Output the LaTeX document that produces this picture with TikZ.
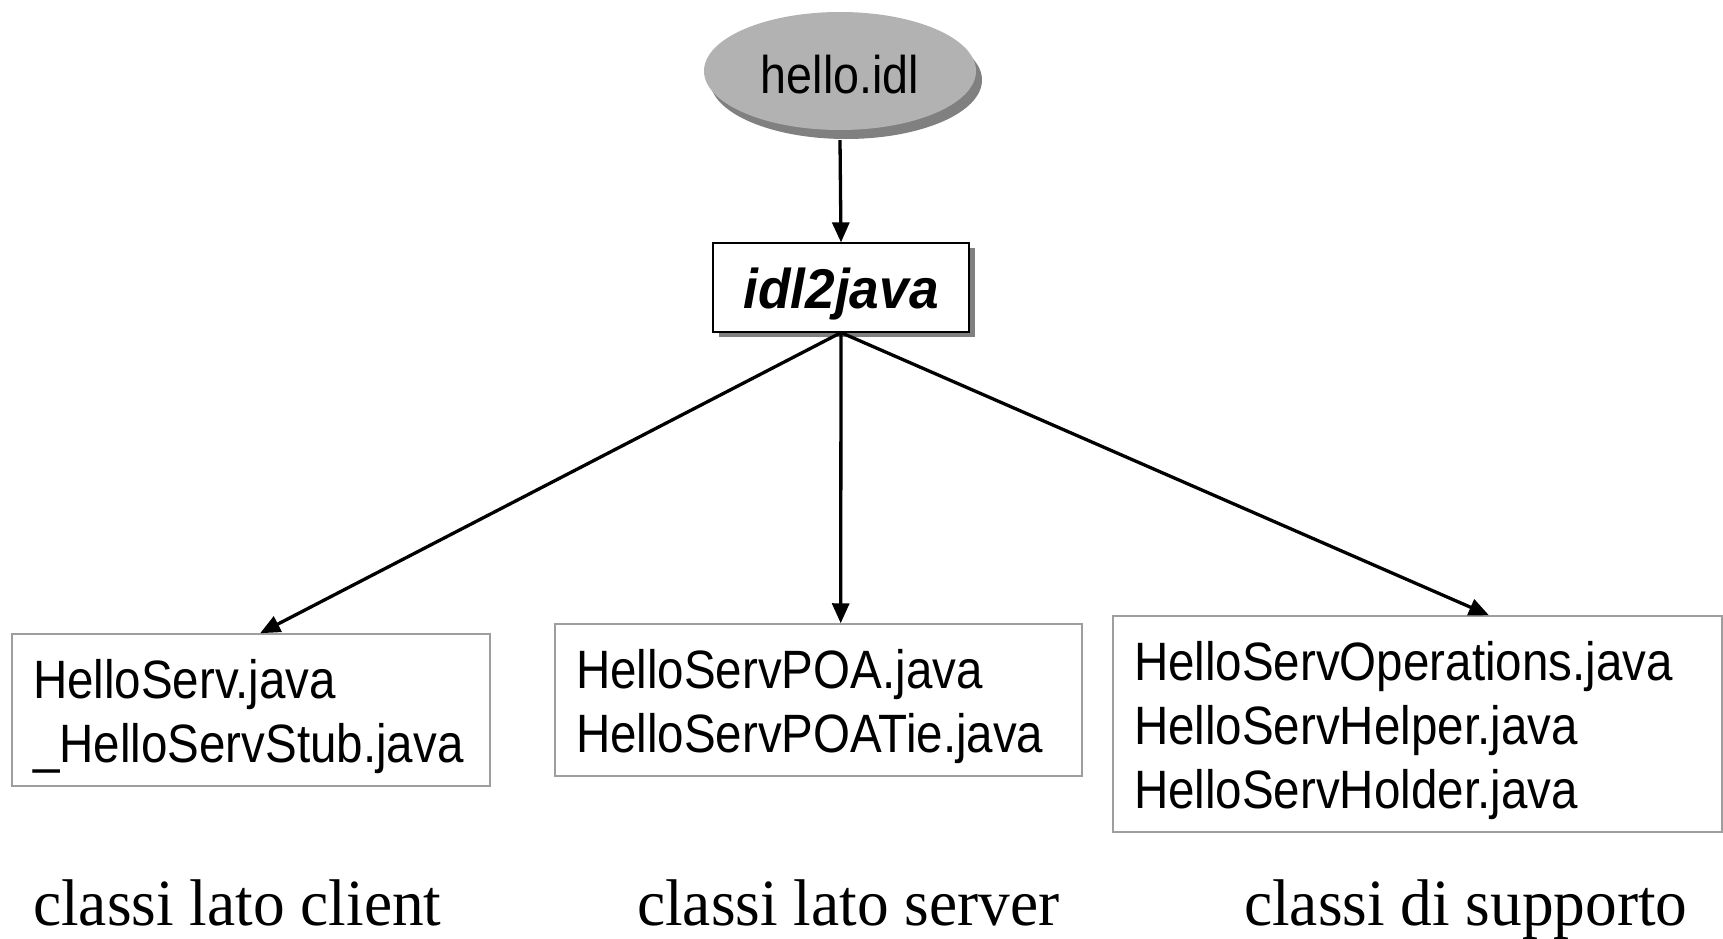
\documentclass[tikz,border=0pt]{standalone}
\usepackage{fontspec}
\setmainfont{Liberation Serif}[FakeStretch=0.96]
\newfontfamily\filefont[FakeStretch=0.88]{Liberation Sans}
\newfontfamily\toolfont[FakeStretch=0.95]{Liberation Sans}
\usetikzlibrary{arrows.meta,shapes.geometric,shadows,calc}
\definecolor{ovalgray}{gray}{0.70}
\definecolor{shadegray}{gray}{0.50}
\definecolor{framegray}{gray}{0.62}

\begin{document}
\begin{tikzpicture}[x=1pt,y=-1pt,
  conn/.style={draw=black, line width=3.3pt, -{Triangle[length=20pt,width=17pt]}},
  source/.style={ellipse, fill=ovalgray, minimum width=272pt, minimum height=118pt, inner sep=0pt,
     drop shadow={shadow xshift=6pt, shadow yshift=-9pt, fill=shadegray, opacity=1},
     font=\filefont\fontsize{53}{64}\selectfont, text height=46pt, text depth=0pt},
  tool/.style={rectangle, draw=black, line width=1.2pt, fill=white,
     minimum width=256pt, minimum height=89pt, inner sep=0pt,
     drop shadow={shadow xshift=6pt, shadow yshift=-5pt, fill=shadegray, opacity=1},
     font=\toolfont\bfseries\itshape\fontsize{56}{64}\selectfont, text height=41pt, text depth=0pt},
  filebox/.style={rectangle, draw=framegray, line width=1.5pt, align=left,
     inner xsep=21pt, inner ysep=0pt, text height=53pt,
     font=\filefont\fontsize{54}{64}\selectfont},
  caption/.style={anchor=base west, inner sep=0pt, font=\fontsize{66}{72}\selectfont}
]
\useasboundingbox (0,0) rectangle (1723,939);

% source file and compiler
\node[source] (hello) at (840,71) {hello.idl};
\node[tool] (tool) at (841,287.5) {idl2java};

% generated files
\node[filebox, text width=436pt, minimum height=152pt] (lbox) at (251,710)
  {HelloServ.java\\\_HelloServStub.java};
\node[filebox, text width=485pt, minimum height=152pt] (mbox) at (818.5,700)
  {HelloServPOA.java\\HelloServPOATie.java};
\node[filebox, text width=567pt, minimum height=216pt] (rbox) at (1417.5,724)
  {HelloServOperations.java\\HelloServHelper.java\\HelloServHolder.java};

% group captions
\node[caption] (lcap) at (33,925) {classi lato client};
\node[caption] (mcap) at (637,925) {classi lato server};
\node[caption] (rcap) at (1244,925) {classi di supporto};

% connectors
\draw[conn] ([yshift=-10pt]hello.south) -- (tool.north);
\draw[conn] (tool.south) -- ($(lbox.north west)!0.519!(lbox.north east)$);
\draw[conn] (tool.south) -- ($(mbox.north west)!0.542!(mbox.north east)$);
\draw[conn] (tool.south) -- ($(rbox.north west)!0.617!(rbox.north east)$);
\end{tikzpicture}
\end{document}
